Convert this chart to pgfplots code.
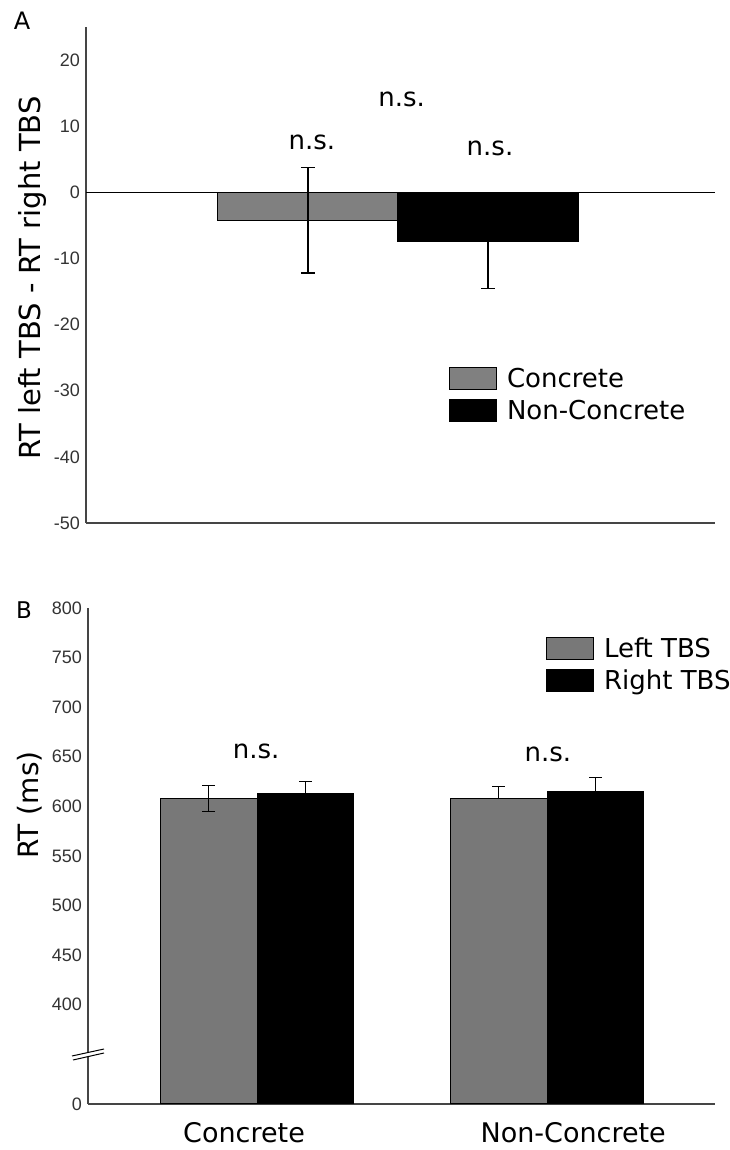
\documentclass[border=0pt]{standalone}
\usepackage{fontspec}
\setmainfont{DejaVu Sans}
\newfontfamily\tickfont{Liberation Sans}
\usepackage{pgfplots}
\pgfplotsset{compat=1.18}
\definecolor{barA}{gray}{0.5}
\definecolor{barB}{gray}{0.47}
\definecolor{axgray}{gray}{0.27}
\pgfplotsset{
  boxlegend/.style={legend image code/.code={\draw[##1,draw=black,line width=1pt] (0pt,-11pt) rectangle (47pt,11pt);}},
  common/.style={
    scale only axis,
    axis x line*=bottom, axis y line*=left,
    axis line style={axgray, line width=1.4pt},
    major tick length=0pt,
    clip=false,
    /pgf/number format/assume math mode=true,
    yticklabel style={font=\tickfont\fontsize{18}{18}\selectfont, text=black!80, anchor=east, inner sep=0pt, xshift=-6pt},
    legend style={draw=none, fill=none, inner sep=0pt, outer sep=0pt, row sep=9pt, column sep=10pt,
      font=\fontsize{26}{28}\selectfont, nodes={inner sep=0pt}},
    legend cell align=left,
    error bars/y dir=both, error bars/y explicit,
    error bars/error bar style={black, line width=1.2pt},
    error bars/error mark options={rotate=90, mark size=7pt, line width=1.2pt, black},
  }
}
\begin{document}
\begin{tikzpicture}
\useasboundingbox (0pt,0pt) rectangle (730pt,1150pt);
% ---------------- Panel A ----------------
\begin{axis}[common,
  at={(86pt,627pt)}, anchor=south west,
  width=629pt, height=496pt,
  xmin=-1.733, xmax=1.761, ymin=-50, ymax=25,
  xtick=\empty,
  ytick={-50,-40,-30,-20,-10,0,10,20},
  ybar=0pt, bar width=1,
  ylabel={RT left TBS - RT right TBS},
  ylabel style={at={(rel axis cs:0,0.494)}, anchor=center, yshift=53.5pt, font=\fontsize{29}{29}\selectfont},
  legend style={at={(rel axis cs:0.5771,0.3145)}, anchor=north west},
]
\addplot[boxlegend, fill=barA, draw=black, line width=1pt] coordinates {(0,-4.2) +- (0,8.0)};
\addplot[boxlegend, fill=black, draw=black, line width=1pt] coordinates {(0,-7.4) +- (0,7.1)};
\legend{Concrete,Non-Concrete}
\draw[black, line width=1.2pt] (axis cs:-1.733,0) -- (axis cs:1.761,0);
\node[font=\fontsize{26}{26}\selectfont] at (axis cs:0.02,14.06) {n.s.};
\node[font=\fontsize{26}{26}\selectfont] at (axis cs:-0.478,7.56) {n.s.};
\node[font=\fontsize{26}{26}\selectfont] at (axis cs:0.511,6.58) {n.s.};
\end{axis}
% ---------------- Panel B ----------------
\begin{axis}[common,
  at={(88pt,46pt)}, anchor=south west,
  width=627pt, height=496pt,
  xmin=0.417, xmax=2.579, ymin=300, ymax=800,
  xtick={0.955,2.09}, xticklabels={Concrete,Non-Concrete},
  xticklabel style={font=\fontsize{27}{27}\selectfont, anchor=base, inner sep=0pt, yshift=-39pt},
  ytick={300,400,450,500,550,600,650,700,750,800},
  yticklabels={0,400,450,500,550,600,650,700,750,800},
  ybar=0pt, bar width=0.334,
  ylabel={RT (ms)},
  ylabel style={at={(rel axis cs:0,0.603)}, anchor=center, yshift=58pt, font=\fontsize{28}{28}\selectfont},
  legend style={at={(rel axis cs:0.7305,0.9415)}, anchor=north west},
  error bars/error mark options={rotate=90, mark size=6.5pt, line width=1.2pt, black},
]
\addplot[boxlegend, fill=barB, draw=black, line width=1pt] coordinates {(1,608) +- (0,13) (2,608) += (0,12) -= (0,0)};
\addplot[boxlegend, fill=black, draw=black, line width=1pt] coordinates {(1,613) +- (0,12) (2,615) +- (0,14)};
\legend{Left TBS,Right TBS}
\node[font=\fontsize{26}{26}\selectfont] at (axis cs:0.997,655.3) {n.s.};
\node[font=\fontsize{26}{26}\selectfont] at (axis cs:2.003,652.3) {n.s.};
\end{axis}
% axis break marks
\fill[white] (72pt,93pt) -- (104pt,101pt) -- (104pt,97pt) -- (73pt,90pt) -- cycle;
\draw[black, line width=1pt] (72pt,94pt) -- (104pt,101pt);
\draw[black, line width=1pt] (73pt,90pt) -- (104pt,97pt);
% panel letters
\node[font=\fontsize{24}{24}\selectfont] at (22pt,1129pt) {A};
\node[font=\fontsize{23}{23}\selectfont] at (24pt,540pt) {B};
\end{tikzpicture}
\end{document}
